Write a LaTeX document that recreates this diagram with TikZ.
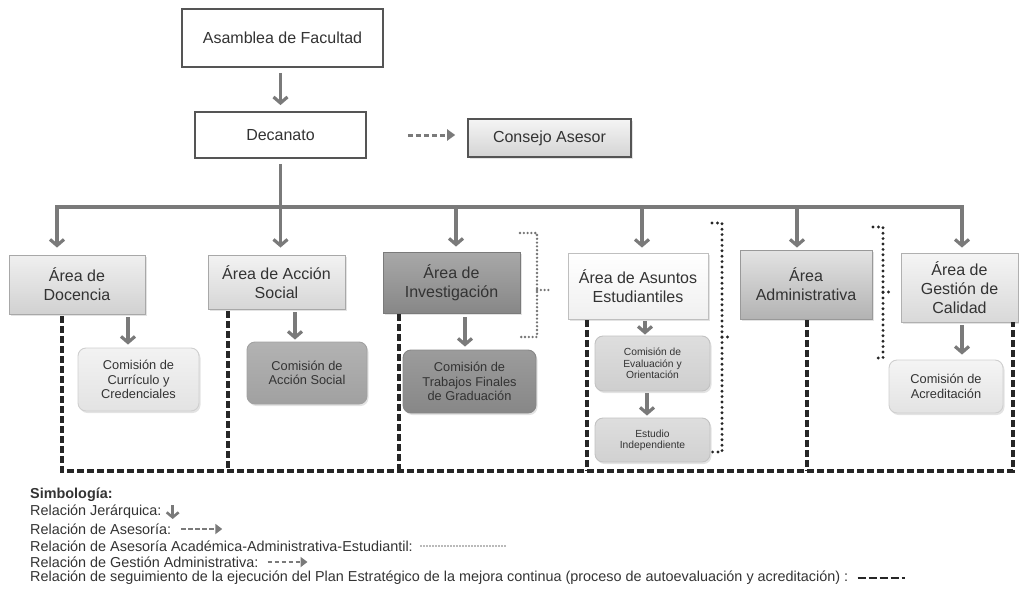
\documentclass[tikz,border=0pt]{standalone}
\usepackage{fontspec}
\setmainfont{Liberation Sans}
\usetikzlibrary{arrows.meta,shadows}

\definecolor{txt}{HTML}{333333}
\definecolor{linkgray}{HTML}{7A7A7A}
\definecolor{framegray}{HTML}{555555}

\begin{document}
\begin{tikzpicture}[x=1pt,y=-1pt,
  every node/.style={inner sep=0pt, text=txt, align=center},
  bigtext/.style={font=\fontsize{16}{19}\selectfont},
  midtext/.style={font=\fontsize{12.8}{14.6}\selectfont},
  smalltext/.style={font=\fontsize{10.3}{11.3}\selectfont},
  legtext/.style={font=\fontsize{14.4}{16}\selectfont, anchor=west},
  softshadow/.style={drop shadow={opacity=0.22, shadow xshift=1.5pt, shadow yshift=-2pt}},
  topbox/.style={draw=framegray, line width=1.8pt, fill=white, bigtext},
  areabox/.style n args={3}{draw=white!#3!black, line width=0.9pt, top color=white!#1!black, bottom color=white!#2!black, softshadow, bigtext},
  combox/.style n args={3}{draw=white!#3!black, line width=0.9pt, rounded corners=8pt, top color=white!#1!black, bottom color=white!#2!black, softshadow, midtext},
  hier/.style={draw=linkgray, line width=3.2pt, -{Straight Barb[length=6pt,width=14pt]}},
  hierline/.style={draw=linkgray, line width=3.2pt},
  advice/.style={draw=linkgray, line width=3pt, dash pattern=on 5pt off 3pt, -{Triangle[length=8pt,width=11pt]}},
  follow/.style={draw=black!85, line width=3.2pt, dash pattern=on 6.5pt off 3.5pt},
  dotblack/.style={draw=black!85, line width=3.2pt, line cap=round, dash pattern=on 0pt off 5.4pt},
  dotgray/.style={draw=black!55, line width=2.6pt, line cap=round, dash pattern=on 0pt off 3.8pt}
]
\useasboundingbox (0,0) rectangle (1019,589);

% governing bodies
\node[topbox, minimum width=201pt, minimum height=58pt] (asamblea) at (282.5,38) {Asamblea de Facultad};
\node[topbox, minimum width=171pt, minimum height=46pt] (decanato) at (280.5,135) {Decanato};
\node[areabox={96}{83}{33}, line width=1.6pt, minimum width=163pt, minimum height=38pt] (consejo) at (549.5,138) {Consejo Asesor};

% areas
\node[areabox={94}{82}{66}, minimum width=136pt, minimum height=59pt] (docencia) at (77,284.5) {Área de\\Docencia};
\node[areabox={95}{84}{66}, minimum width=137pt, minimum height=54pt] (accion) at (276.5,282) {Área de Acción\\Social};
\node[areabox={66}{53}{48}, minimum width=137pt, minimum height=61pt] (invest) at (451.5,282.5) {Área de\\Investigación};
\node[areabox={100}{94}{75}, minimum width=140pt, minimum height=66pt] (asuntos) at (638,286) {Área de Asuntos\\Estudiantiles};
\node[areabox={89}{70}{60}, minimum width=132pt, minimum height=69pt] (admin) at (806,284.5) {Área\\Administrativa};
\node[areabox={96}{85}{69}, minimum width=117pt, minimum height=69pt] (gestion) at (959.5,287.5) {Área de\\Gestión de\\Calidad};

% commissions
\node[combox={95}{89}{81}, minimum width=121pt, minimum height=63pt] (curriculo) at (138.5,379.5) {Comisión de\\Currículo y\\Credenciales};
\node[combox={70}{63}{63}, minimum width=120pt, minimum height=62pt] (comaccion) at (307,373) {Comisión de\\Acción Social};
\node[combox={61}{53}{53}, minimum width=133pt, minimum height=63pt] (tfg) at (469.5,381.5) {Comisión de\\Trabajos Finales\\de Graduación};
\node[combox={87}{81}{76}, smalltext, minimum width=115pt, minimum height=55pt] (evaluacion) at (652.5,363.5) {Comisión de\\Evaluación y\\Orientación};
\node[combox={87}{82}{76}, smalltext, minimum width=115pt, minimum height=44pt] (estudio) at (652.5,440) {Estudio\\Independiente};
\node[combox={96}{89}{81}, minimum width=114pt, minimum height=53pt] (acreditacion) at (946,386.5) {Comisión de\\Acreditación};

% hierarchy
\draw[hier, shorten <=5pt, shorten >=6pt] (asamblea.south -| decanato.north) -- (decanato.north);
\coordinate (bar) at (decanato.south |- 0,207);
\coordinate (barL) at (57,207);
\coordinate (barR) at (962,207);
\draw[hierline, shorten <=5pt] (decanato.south) -- (bar);
\draw[hierline, line cap=rect] (barL) -- (barR);
\draw[hier, shorten >=7pt] (barL) -- (barL |- docencia.north);
\draw[hier, shorten >=7pt] (bar) -- (bar |- accion.north);
\draw[hier, shorten >=5pt] (456,207) -- (456,0 |- invest.north);
\draw[hier, shorten >=5pt] (642,207) -- (642,0 |- asuntos.north);
\draw[hier, shorten >=2pt] (797,207) -- (797,0 |- admin.north);
\draw[hier, shorten >=5pt] (barR) -- (barR |- gestion.north);

\draw[hier, shorten <=3pt, shorten >=3pt] (128,0 |- docencia.south) -- (128,0 |- curriculo.north);
\draw[hier, shorten <=3pt, shorten >=2pt] (295,0 |- accion.south) -- (295,0 |- comaccion.north);
\draw[hier, shorten <=4pt, shorten >=3pt] (465,0 |- invest.south) -- (465,0 |- tfg.north);
\draw[hier, shorten <=2pt, shorten >=1pt] (645,0 |- asuntos.south) -- (645,0 |- evaluacion.north);
\draw[hier, shorten <=2pt, shorten >=2pt] (647,0 |- evaluacion.south) -- (647,0 |- estudio.north);
\draw[hier, shorten <=3pt, shorten >=5pt] (962,0 |- gestion.south) -- (962,0 |- acreditacion.north);

% advisory link
\draw[advice, shorten <=41pt, shorten >=12pt] (decanato.east) -- (decanato.east -| consejo.west);

% follow-up of the strategic plan
\coordinate (fL) at (62,471);
\coordinate (fR) at (1013,471);
\draw[follow, shorten <=2pt] (62,0 |- docencia.south) -- (fL) -- (fR) -- (1013,0 |- gestion.south);
\draw[follow, shorten <=2pt] (228,0 |- accion.south) -- (228,471);
\draw[follow, shorten <=1pt] (399,0 |- invest.south) -- (399,471);
\draw[follow, shorten <=1pt] (587,0 |- asuntos.south) -- (587,471);
\draw[follow, shorten <=1pt] (807,0 |- admin.south) -- (807,471);

% academic-administrative-student advisory brackets
\draw[dotgray] (520,233) -- (537,233) -- (537,337) -- (520,337);
\draw[dotgray] (537,290) -- (551,290);
\draw[dotblack] (712,223) -- (722,223) -- (722,452) -- (712,452);
\draw[dotblack] (722,337) -- (732,337);
\draw[dotblack] (873,227) -- (883,227) -- (883,358) -- (873,358);
\draw[dotblack] (883,292) -- (891,292);

% legend
\node[legtext, font=\fontsize{14.4}{16}\selectfont\bfseries] (ley) at (30,495) {Simbología:};
\node[legtext] (l1) at (30,512) {Relación Jerárquica:};
\node[legtext] (l2) at (30,529) {Relación de Asesoría:};
\node[legtext] (l3) at (30,546) {Relación de Asesoría Académica-Administrativa-Estudiantil:};
\node[legtext] (l4) at (30,562) {Relación de Gestión Administrativa:};
\node[legtext] (l5) at (30,578) {Relación de seguimiento de la ejecución del Plan Estratégico de la mejora continua (proceso de autoevaluación y acreditación) :};

\draw[hier, line width=2.6pt, -{Straight Barb[length=5pt,width=12pt]}] ([xshift=11pt]l1.north east) -- ([xshift=11pt]l1.south east);
\draw[advice, line width=2.6pt, dash pattern=on 4.5pt off 2.5pt, -{Triangle[length=7pt,width=10pt]}] ([xshift=10pt]l2.east) -- ++(41,0);
\draw[dotgray, line width=1.9pt, dash pattern=on 0pt off 3pt] ([xshift=8pt]l3.east) -- ++(86,0);
\draw[advice, line width=2.6pt, dash pattern=on 4.5pt off 2.5pt, -{Triangle[length=7pt,width=10pt]}] ([xshift=9pt]l4.east) -- ++(40,0);
\draw[follow, line width=2.8pt, dash pattern=on 8pt off 3pt] ([xshift=9pt]l5.east) -- ++(47,0);
\end{tikzpicture}
\end{document}
